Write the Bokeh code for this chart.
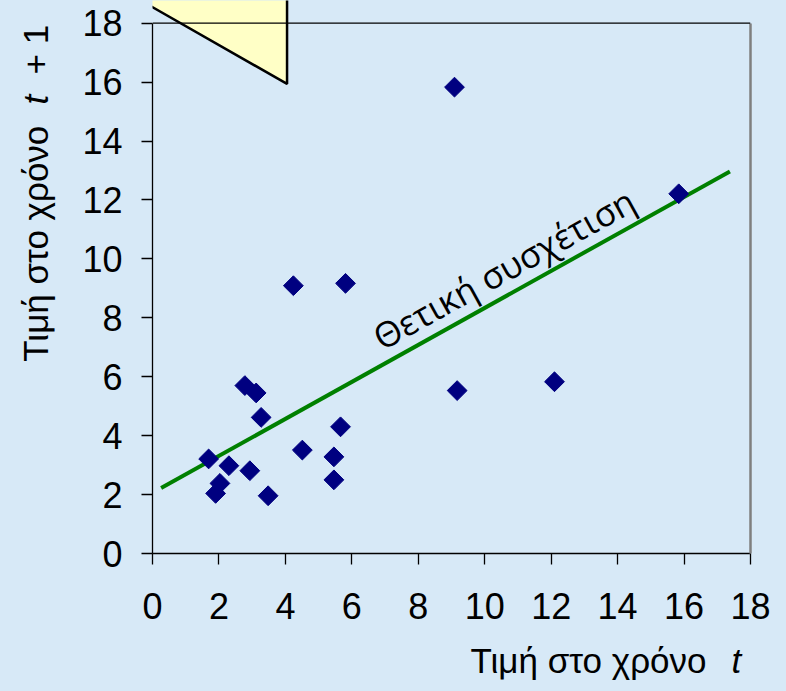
import numpy as np
from bokeh.plotting import figure
from bokeh.models import Label, Span, LinearAxis, FixedTicker, Range1d
from bokeh.embed import file_html
from bokeh.resources import INLINE

# ---- data ----
x_vals = [9.09, 15.84, 4.24, 5.81, 12.10, 9.17, 2.78, 3.12, 3.27, 5.66,
          1.69, 4.51, 5.46, 2.30, 2.93, 2.03, 1.90, 5.46, 3.48]
y_vals = [15.83, 12.21, 9.09, 9.17, 5.83, 5.53, 5.70, 5.45, 4.62, 4.30,
          3.21, 3.51, 3.28, 2.98, 2.81, 2.38, 2.04, 2.50, 1.96]
trend_x = [0.26, 17.38]
trend_y = [2.22, 12.97]
x_ticks = [0, 2, 4, 6, 8, 10, 12, 14, 16, 18]
y_ticks = [0, 2, 4, 6, 8, 10, 12, 14, 16, 18]
x_title = "Τιμή στο χρόνο"
x_title_var = "t"
y_title = "Τιμή στο χρόνο"
y_title_var = "t"
y_title_tail = "+ 1"
trend_text = "Θετική συσχέτιση"
# callout pointer outline (decoration), in data units
callout_x = [-1.41, 4.05, 4.05]
callout_y = [19.45, 19.45, 15.94]

BG = "#D7E9F7"
FONT = "Liberation Sans"

# frame reaches the top of the canvas so the callout is not cut; axes are bounded to 0..18
p = figure(width=786, height=691, x_range=Range1d(0, 18), y_range=Range1d(0, 18.771),
           output_backend="svg", toolbar_location=None,
           min_border_left=152, min_border_right=36, min_border_top=0, min_border_bottom=138,
           background_fill_color=BG, border_fill_color=BG, outline_line_color=None)
p.grid.visible = False

for ax, ticks, standoff in ((p.xaxis[0], x_ticks, 28), (p.yaxis[0], y_ticks, 19)):
    ax.ticker = FixedTicker(ticks=ticks)
    ax.bounds = (0, 18)
    ax.minor_tick_line_color = None
    ax.major_tick_in = 0
    ax.major_tick_out = 11
    ax.major_tick_line_color = "black"
    ax.major_tick_line_width = 1.3
    ax.axis_line_color = "black"
    ax.axis_line_width = 1.3
    ax.major_label_text_font = FONT
    ax.major_label_text_font_size = "36px"
    ax.major_label_text_color = "black"
    ax.major_label_standoff = standoff

right_ax = LinearAxis(ticker=FixedTicker(ticks=[]), bounds=(0, 18),
                      axis_line_color="#7F7F7F", axis_line_width=2.5,
                      major_tick_line_color=None, minor_tick_line_color=None,
                      major_tick_out=0, major_tick_in=0, major_label_standoff=0,
                      major_label_text_font_size="0px")
p.add_layout(right_ax, "right")

p.patch(callout_x, callout_y, fill_color="#FFFFC6", line_color="black", line_width=2.5)
p.add_layout(Span(location=18, dimension="width", line_color="black", line_width=1.3))

p.line(trend_x, trend_y, line_color="#008000", line_width=4)
p.scatter(x_vals, y_vals, marker="square", size=14, angle=np.pi / 4,
          fill_color="#000080", line_color="#000080")

p.add_layout(Label(x=6.72, y=7.27, text=trend_text, angle=29, angle_units="deg",
                   text_font="Open Sans", text_font_size="35px", text_color="black",
                   text_align="left", text_baseline="middle"))

# axis titles, placed in side panels so they are drawn outside the frame
p.add_layout(Label(x=9.57, y=-3.63, text=x_title, text_font=FONT, text_font_size="35px",
                   text_align="left", text_baseline="middle", text_color="black"), "below")
p.add_layout(Label(x=17.43, y=-3.63, text=x_title_var, text_font=FONT, text_font_size="35px",
                   text_font_style="italic",
                   text_align="left", text_baseline="middle", text_color="black"), "right")
p.add_layout(Label(x=-3.53, y=6.51, text=y_title, text_font=FONT, text_font_size="35px",
                   angle=90, angle_units="deg",
                   text_align="left", text_baseline="middle", text_color="black"), "left")
p.add_layout(Label(x=-3.53, y=15.24, text=y_title_var, text_font=FONT, text_font_size="35px",
                   text_font_style="italic", angle=90, angle_units="deg",
                   text_align="left", text_baseline="middle", text_color="black"), "below")
p.add_layout(Label(x=-3.53, y=16.26, text=y_title_tail, text_font=FONT, text_font_size="35px",
                   angle=90, angle_units="deg",
                   text_align="left", text_baseline="middle", text_color="black"), "left")

html = file_html(p, INLINE)
html = html.replace("</head>",
                    "<style>html,body{margin:0;padding:0;background:%s;overflow:hidden}</style></head>" % BG, 1)
open("out.html", "w").write(html)
